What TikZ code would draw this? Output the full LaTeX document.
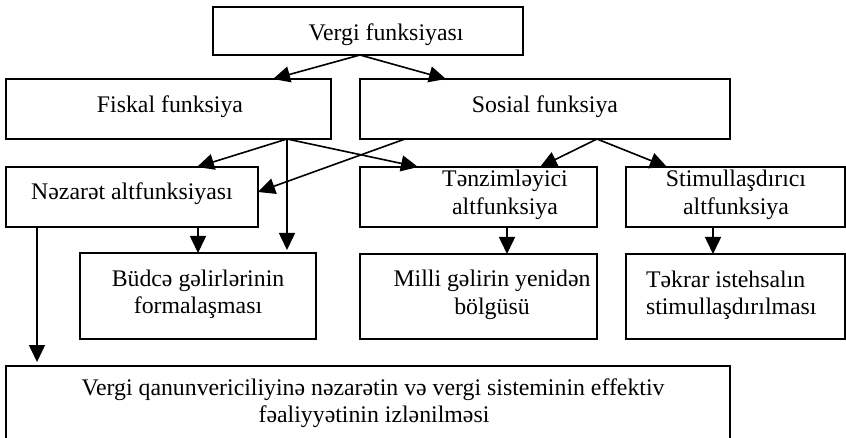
\documentclass[tikz,border=0pt]{standalone}
\usepackage{fontspec}
\setmainfont{Liberation Serif}
\usetikzlibrary{arrows.meta}
\tikzset{
 box/.style={draw=black, line width=1.6pt, inner sep=0pt, outer sep=0pt},
 lbl/.style={font=\fontsize{23.8}{27.5}\selectfont, inner sep=0pt, outer sep=0pt, align=center},
 arr/.style={line width=1.6pt, -{Triangle[length=17pt,width=16pt]}},
}
\begin{document}
\begin{tikzpicture}[x=1pt,y=-1pt]
\fill[white] (0,0) rectangle (846,438);
\useasboundingbox (0,0) rectangle (846,438);
% boxes
\node[box, minimum width=310pt, minimum height=48pt] (top) at (368,31) {};
\node[box, minimum width=325pt, minimum height=60pt] (fisk) at (168.5,109) {};
\node[box, minimum width=370pt, minimum height=60pt] (sos) at (545,109) {};
\node[box, minimum width=252pt, minimum height=60pt] (nez) at (132,197) {};
\node[box, minimum width=237pt, minimum height=60pt] (tenz) at (478.5,197) {};
\node[box, minimum width=219pt, minimum height=60pt] (stim) at (735.5,197) {};
\node[box, minimum width=236pt, minimum height=86pt] (budce) at (198,296) {};
\node[box, minimum width=237pt, minimum height=85pt] (milli) at (478.5,296.5) {};
\node[box, minimum width=219pt, minimum height=85pt] (tekrar) at (735.5,296.5) {};
\node[box, minimum width=724pt, minimum height=84pt] (bot) at (368,408) {};
% texts
\node[lbl, anchor=base] (ttop) at (386,41) {Vergi funksiyası};
\node[lbl, anchor=base] (tfisk) at (170,113) {Fiskal funksiya};
\node[lbl, anchor=base] (tsos) at (545,113) {Sosial funksiya};
\node[lbl, anchor=base] (tnez) at (132,200) {Nəzarət altfunksiyası};
\node[lbl, anchor=base] (ttenz1) at (505,187) {Tənzimləyici};
\node[lbl, anchor=base] (ttenz2) at (505,215) {altfunksiya};
\node[lbl, anchor=base] (tstim1) at (736,187) {Stimullaşdırıcı};
\node[lbl, anchor=base] (tstim2) at (736,215) {altfunksiya};
\node[lbl, anchor=base] (tbud1) at (198,287) {Büdcə gəlirlərinin};
\node[lbl, anchor=base] (tbud2) at (198,314) {formalaşması};
\node[lbl, anchor=base] (tmil1) at (492,287) {Milli gəlirin yenidən};
\node[lbl, anchor=base] (tmil2) at (492,315) {bölgüsü};
\node[lbl, anchor=base west] (ttek1) at (646,288) {Təkrar istehsalın};
\node[lbl, anchor=base west] (ttek2) at (646,315) {stimullaşdırılması};
\node[lbl, anchor=base] (tbot1) at (373,395) {Vergi qanunvericiliyinə nəzarətin və vergi sisteminin effektiv};
\node[lbl, anchor=base] (tbot2) at (374,422) {fəaliyyətinin izlənilməsi};
% connectors
\draw[arr] ([xshift=-8pt]top.south) -- ([xshift=104.5pt]fisk.north);
\draw[arr] ([xshift=-8pt]top.south) -- ([xshift=-99pt]sos.north);
\draw[arr] ([xshift=118.5pt]fisk.south) -- ([xshift=65pt]nez.north);
\draw[arr] ([xshift=118.5pt]fisk.south) -- ([xshift=-60.5pt]tenz.north);
\draw[arr, shorten >=3pt] ([xshift=118.5pt]fisk.south) -- ([xshift=118.5pt]fisk.south |- budce.north);
\draw[arr] ([xshift=-140pt]sos.south) -- ([yshift=5pt]nez.east);
\draw[arr] ([xshift=52pt]sos.south) -- ([xshift=61.5pt]tenz.north);
\draw[arr] ([xshift=52pt]sos.south) -- ([xshift=-68.5pt]stim.north);
\draw[arr] ([xshift=66pt]nez.south) -- ([xshift=66pt]nez.south |- budce.north);
\draw[arr, shorten >=4pt] ([xshift=-95pt]nez.south) -- ([xshift=-95pt]nez.south |- bot.north);
\draw[arr] ([xshift=28.5pt]tenz.south) -- ([xshift=28.5pt]tenz.south |- milli.north);
\draw[arr] ([xshift=-22.5pt]stim.south) -- ([xshift=-22.5pt]stim.south |- tekrar.north);
\end{tikzpicture}
\end{document}
